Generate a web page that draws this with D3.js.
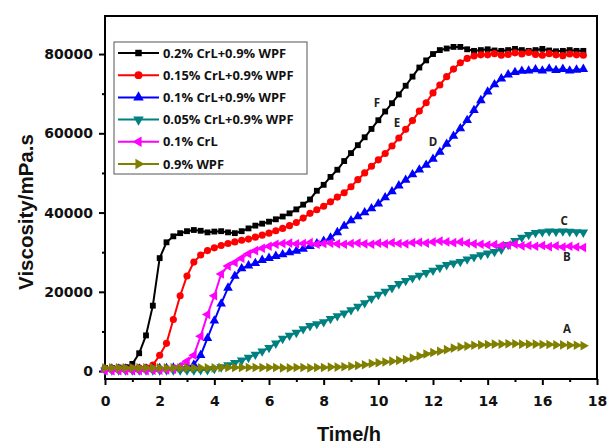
<!DOCTYPE html>
<html>
<head>
<meta charset="utf-8">
<script src="https://cdn.jsdelivr.net/npm/d3@7.9.0/dist/d3.min.js"></script>
<style>
  html, body { margin: 0; padding: 0; background: #fff; }
  svg { display: block; }
</style>
</head>
<body>
<div id="chart"></div>
<script>
/* ── data: viscosity in 1000 mPa.s, sampled every 0.25 h ── */
const time = [
  0, 0.25, 0.5, 0.75, 1, 1.25, 1.5, 1.75, 2, 2.25,
  2.5, 2.75, 3, 3.25, 3.5, 3.75, 4, 4.25, 4.5, 4.75,
  5, 5.25, 5.5, 5.75, 6, 6.25, 6.5, 6.75, 7, 7.25,
  7.5, 7.75, 8, 8.25, 8.5, 8.75, 9, 9.25, 9.5, 9.75,
  10, 10.25, 10.5, 10.75, 11, 11.25, 11.5, 11.75, 12, 12.25,
  12.5, 12.75, 13, 13.25, 13.5, 13.75, 14, 14.25, 14.5, 14.75,
  15, 15.25, 15.5, 15.75, 16, 16.25, 16.5, 16.75, 17, 17.25,
  17.5
];

const crl020 = [
  0.8, 0.8, 0.9, 1.0, 1.8, 4.5, 9, 16.5, 28.5, 32.5,
  34, 34.8, 35.3, 35.6, 35.4, 35, 35.2, 35.3, 35, 34.8,
  35.3, 36, 36.7, 37.2, 37.7, 38.3, 39, 39.8, 40.8, 42,
  43.3, 45.5, 47, 49, 50.8, 53, 55, 57, 59, 61.1,
  63.3, 65.5, 67.6, 69.8, 72, 74.3, 76.6, 78.4, 80, 81,
  81.4, 81.8, 81.8, 81.2, 80.8, 81, 81.2, 80.9, 80.8, 81,
  81.3, 81, 80.8, 81, 81.3, 80.9, 80.7, 80.8, 81, 80.8,
  80.8
];
const crl015 = [
  0.7, 0.7, 0.7, 0.7, 0.8, 0.8, 0.9, 1.5, 4, 7,
  13, 19, 24, 27.5, 29.3, 30.4, 31.1, 31.7, 32.2, 32.6,
  33, 33.3, 33.8, 34.3, 34.8, 35.4, 36, 36.7, 37.5, 38.6,
  39.8, 40.7, 41.6, 42.7, 43.9, 45, 46.5, 48.3, 50, 51.7,
  53.3, 54.9, 56.8, 58.8, 61, 63.2, 65.6, 67.7, 70.2, 72.2,
  74.3, 76.2, 77.8, 78.9, 79.5, 79.8, 79.8, 80.1, 79.7, 79.9,
  80.3, 80, 80.4, 79.9, 79.7, 80.1, 79.8, 79.6, 80, 79.8,
  79.7
];
const crl010 = [
  0.6, 0.6, 0.6, 0.6, 0.6, 0.6, 0.6, 0.6, 0.7, 0.7,
  0.8, 0.9, 1.0, 1.6, 4, 8.3, 12.7, 17, 21, 24,
  25.9, 26.6, 27.2, 28, 28.5, 29, 29.4, 29.9, 30.3, 30.8,
  31.5, 32.2, 32.8, 33.6, 35, 36.6, 38, 39, 40, 41,
  42.2, 43.8, 45.3, 46.8, 48.2, 49.6, 50.8, 52, 53.5, 55.3,
  57.3, 59.3, 61.2, 63.3, 65.8, 68.3, 70.5, 72.3, 73.8, 74.8,
  75.4, 75.7, 75.8, 76.1, 75.8, 76.3, 75.9, 76.2, 75.8, 76,
  76.2
];
const crl005 = [
  0.2, 0.2, 0.2, 0.2, 0.2, 0.2, 0.2, 0.2, 0.2, 0.2,
  0.2, 0.2, 0.2, 0.2, 0.3, 0.3, 0.6, 1.0, 1.5, 2.1,
  2.7, 3.4, 4.2, 5, 5.9, 7, 8.2, 9, 9.7, 10.6,
  11.4, 11.9, 12.4, 13.2, 13.9, 14.6, 15.4, 16.3, 17.2, 18.3,
  19.3, 20.1, 21, 22, 22.8, 23.5, 24.1, 24.8, 25.4, 26.1,
  26.8, 27.2, 27.6, 28.2, 28.8, 29.3, 29.7, 30.1, 30.7, 31.9,
  32.9, 33.7, 34.4, 34.9, 35.1, 35.3, 35.2, 35.3, 35.2, 35.1,
  35
];
const crlOnly = [
  0.1, 0.1, 0.1, 0.1, 0.1, 0.1, 0.1, 0.2, 0.2, 0.3,
  0.5, 1.2, 2.5, 4, 8.8, 14.3, 19, 24.5, 26.5, 27.4,
  28.5, 29.6, 30.4, 31, 31.5, 32, 32.2, 32.3, 32.1, 32.2,
  32.4, 32, 32.2, 32.3, 32.1, 32, 32.2, 32.3, 32.1, 32,
  32.3, 32.1, 32.4, 32.2, 32.1, 32.4, 32.5, 32.3, 32.6, 32.8,
  32.6, 32.4, 32.6, 32.3, 32.1, 32, 31.8, 31.9, 31.7, 31.8,
  32, 31.6, 31.7, 31.5, 31.7, 31.4, 31.6, 31.3, 31.5, 31.3,
  31.2
];
const wpfOnly = [
  0.8, 0.8, 0.8, 0.8, 0.8, 0.8, 0.8, 0.8, 0.8, 0.8,
  0.8, 0.8, 0.8, 0.8, 0.8, 0.8, 0.8, 0.9, 0.9, 0.9,
  0.9, 0.9, 0.9, 0.9, 0.9, 0.9, 0.8, 0.8, 0.9, 0.9,
  0.8, 0.9, 0.9, 1.0, 1.0, 1.1, 1.2, 1.4, 1.6, 1.9,
  2.1, 2.3, 2.5, 2.7, 2.9, 3.3, 3.8, 4.3, 4.7, 5.0,
  5.4, 5.8, 6.1, 6.3, 6.5, 6.6, 6.7, 6.8, 6.8, 6.9,
  6.9, 6.8, 6.8, 6.8, 6.7, 6.7, 6.6, 6.6, 6.5, 6.5,
  6.4
];

const seriesNames = ['0.2% CrL+0.9% WPF', '0.15% CrL+0.9% WPF', '0.1% CrL+0.9% WPF',
                     '0.05% CrL+0.9% WPF', '0.1% CrL', '0.9% WPF'];
const seriesValues = [crl020, crl015, crl010, crl005, crlOnly, wpfOnly];
const seriesColors = ['#000000', '#ff0000', '#0000ff', '#008080', '#ff00ff', '#808000'];
// marker: symbol type, rotation, area
const seriesMarkers = [
  [d3.symbolSquare, 0, 34], [d3.symbolCircle, 0, 40], [d3.symbolTriangle, 0, 40],
  [d3.symbolTriangle, 180, 40], [d3.symbolTriangle, -90, 40], [d3.symbolTriangle, 90, 40]
];

const curveLabels = ['F', 'E', 'D', 'C', 'B', 'A'];
const curveLabelPos = [[9.95, 66600], [10.68, 61700], [12.0, 56900], [16.8, 36800], [16.9, 27700], [16.9, 9500]];

const xTicks = [0, 2, 4, 6, 8, 10, 12, 14, 16, 18];
const xMinor = [1, 3, 5, 7, 9, 11, 13, 15, 17];
const yTicks = [0, 20000, 40000, 60000, 80000];
const yMinor = [10000, 30000, 50000, 70000];

/* ── layout ── */
const width = 607, height = 444;
const plot = { left: 105, right: 597, top: 16, bottom: 379 };

const x = d3.scaleLinear().domain([0, 18]).range([plot.left, plot.right]);
const y = d3.scaleLinear().domain([-2000, 89600]).range([plot.bottom, plot.top]);

const svg = d3.select('#chart').append('svg')
  .attr('width', width).attr('height', height);

const tickFont = '"DejaVu Sans", sans-serif';
const titleFont = '"Liberation Sans", Arial, sans-serif';

/* minor ticks */
svg.append('g')
  .attr('transform', `translate(0,${plot.bottom})`)
  .call(d3.axisBottom(x).tickValues(xMinor).tickSize(3).tickFormat(''))
  .call(g => g.select('.domain').remove())
  .selectAll('line').attr('stroke-width', 2);

svg.append('g')
  .attr('transform', `translate(${plot.left},0)`)
  .call(d3.axisLeft(y).tickValues(yMinor).tickSize(3).tickFormat(''))
  .call(g => g.select('.domain').remove())
  .selectAll('line').attr('stroke-width', 2);

/* major axes */
const xAxis = svg.append('g')
  .attr('transform', `translate(0,${plot.bottom})`)
  .call(d3.axisBottom(x).tickValues(xTicks).tickSize(6).tickPadding(11).tickFormat(d3.format('d')));
xAxis.select('.domain').remove();
xAxis.selectAll('line').attr('stroke-width', 2);
xAxis.selectAll('text')
  .attr('font-family', tickFont).attr('font-weight', 'bold').attr('font-size', 14).attr('fill', '#111');

const yAxis = svg.append('g')
  .attr('transform', `translate(${plot.left},0)`)
  .call(d3.axisLeft(y).tickValues(yTicks).tickSize(6).tickPadding(6).tickFormat(d3.format('d')));
yAxis.select('.domain').remove();
yAxis.selectAll('line').attr('stroke-width', 2);
yAxis.selectAll('text')
  .attr('font-family', tickFont).attr('font-weight', 'bold').attr('font-size', 14).attr('fill', '#111');

/* frame */
svg.append('rect')
  .attr('x', plot.left).attr('y', plot.top)
  .attr('width', plot.right - plot.left).attr('height', plot.bottom - plot.top)
  .attr('fill', 'none').attr('stroke', '#000').attr('stroke-width', 2);

/* axis titles */
svg.append('text')
  .attr('x', 349).attr('y', 441)
  .attr('text-anchor', 'middle')
  .attr('font-family', titleFont).attr('font-weight', 'bold').attr('font-size', 20)
  .attr('fill', '#111')
  .text('Time/h');

svg.append('text')
  .attr('transform', `translate(33,212) rotate(-90)`)
  .attr('text-anchor', 'middle')
  .attr('font-family', titleFont).attr('font-weight', 'bold').attr('font-size', 20.5)
  .attr('fill', '#111')
  .text('Viscosity/mPa.s');

/* curves */
const line = d3.line().x(d => x(d[0])).y(d => y(d[1]));
const plotArea = svg.append('g');

seriesValues.forEach((vals, i) => {
  const pts = vals.map((v, j) => [time[j], v * 1000]);
  const g = plotArea.append('g');
  g.append('path')
    .datum(pts)
    .attr('d', line)
    .attr('fill', 'none')
    .attr('stroke', seriesColors[i])
    .attr('stroke-width', 2);
  const [type, rot, size] = seriesMarkers[i];
  g.selectAll('path.mk')
    .data(pts)
    .join('path')
    .attr('class', 'mk')
    .attr('d', d3.symbol().type(type).size(size))
    .attr('transform', d => `translate(${x(d[0])},${y(d[1])}) rotate(${rot})`)
    .attr('fill', seriesColors[i]);
});

/* curve letters */
svg.selectAll('text.curve')
  .data(curveLabels)
  .join('text')
  .attr('class', 'curve')
  .attr('x', (d, i) => x(curveLabelPos[i][0]))
  .attr('y', (d, i) => y(curveLabelPos[i][1]))
  .attr('text-anchor', 'middle')
  .attr('font-family', '"Open Sans", sans-serif').attr('font-weight', 'bold').attr('font-size', 11.5)
  .attr('fill', '#222')
  .text(d => d);

/* legend */
const legend = svg.append('g').attr('transform', 'translate(114,42)');
legend.append('rect')
  .attr('width', 193).attr('height', 132)
  .attr('fill', '#fff').attr('stroke', '#555').attr('stroke-width', 1);

seriesNames.forEach((name, i) => {
  const cy = 11 + i * 22.2;
  const row = legend.append('g').attr('transform', `translate(0,${cy})`);
  row.append('line')
    .attr('x1', 4).attr('x2', 45).attr('y1', 0).attr('y2', 0)
    .attr('stroke', seriesColors[i]).attr('stroke-width', 2);
  const [type, rot, size] = seriesMarkers[i];
  row.append('path')
    .attr('d', d3.symbol().type(type).size(size + 8))
    .attr('transform', `translate(24.5,0) rotate(${rot})`)
    .attr('fill', seriesColors[i]);
  row.append('text')
    .attr('x', 49).attr('y', 4.5)
    .attr('font-family', '"Open Sans", sans-serif').attr('font-weight', 'bold').attr('font-size', 12.9)
    .attr('fill', '#111')
    .text(name);
});
</script>
</body>
</html>
